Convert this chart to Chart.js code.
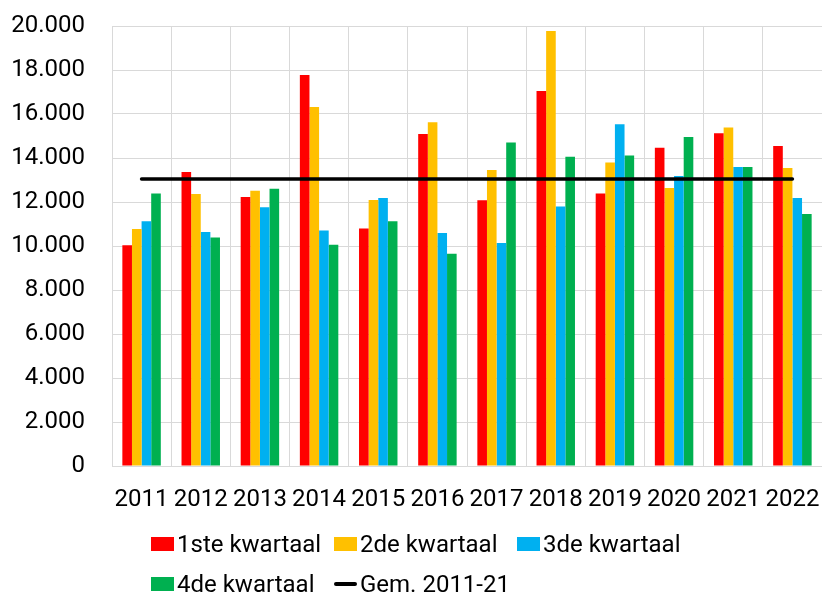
<!DOCTYPE html>
<html>
<head>
<meta charset="utf-8">
<script src="https://cdn.jsdelivr.net/npm/chart.js@4.4.1/dist/chart.umd.min.js"></script>
<style>
  html, body { margin: 0; padding: 0; background: #fff; }
  #wrap { position: relative; width: 822px; height: 592px; font-family: Roboto, sans-serif; }
  #chart { position: absolute; left: 0; top: 0; }
  .item { position: absolute; height: 28px; display: flex; align-items: center; font-size: 24px; line-height: 28px; color: #000; white-space: nowrap; }
  .box { width: 23px; height: 14px; margin-right: 3px; }
  .ln { width: 23px; height: 4px; border-radius: 2px; margin-right: 3px; }
</style>
</head>
<body>
<div id="wrap">
  <canvas id="chart" width="822" height="592"></canvas>
  <div id="legend"></div>
</div>
<script>
const years = ['2011', '2012', '2013', '2014', '2015', '2016', '2017', '2018', '2019', '2020', '2021', '2022'];
const q1 = [10030, 13360, 12230, 17770, 10790, 15090, 12080, 17050, 12390, 14470, 15120, 14550];
const q2 = [10770, 12360, 12510, 16320, 12090, 15620, 13450, 19770, 13800, 12640, 15390, 13550];
const q3 = [11120, 10640, 11760, 10710, 12180, 10590, 10140, 11800, 15530, 13180, 13590, 12180];
const q4 = [12390, 10390, 12600, 10060, 11120, 9650, 14700, 14060, 14110, 14950, 13590, 11450];
const gem = [13050, 13050, 13050, 13050, 13050, 13050, 13050, 13050, 13050, 13050, 13050, 13050];
const yTicks = [0, 2000, 4000, 6000, 8000, 10000, 12000, 14000, 16000, 18000, 20000];

const seriesNames = ['1ste kwartaal', '2de kwartaal', '3de kwartaal', '4de kwartaal', 'Gem. 2011-21'];
const seriesColors = ['#FF0000', '#FFC000', '#00B0F0', '#00B050', '#000000'];

const fmt = v => String(v).replace(/\B(?=(\d{3})+(?!\d))/g, '.');

const bar = (i, data) => ({
    type: 'bar',
    label: seriesNames[i],
    data: data,
    backgroundColor: seriesColors[i],
    borderWidth: 0,
    order: 1,
    categoryPercentage: 0.65,
    barPercentage: 1
});

new Chart(document.getElementById('chart'), {
    data: {
        labels: years,
        datasets: [
            {
                type: 'line',
                label: seriesNames[4],
                data: gem,
                borderColor: seriesColors[4],
                borderWidth: 3.5,
                borderCapStyle: 'round',
                pointRadius: 0,
                fill: false,
                order: 0
            },
            bar(0, q1), bar(1, q2), bar(2, q3), bar(3, q4)
        ]
    },
    options: {
        responsive: false,
        animation: false,
        layout: { padding: { top: 26, left: 0, right: 0, bottom: 0 } },
        plugins: { legend: { display: false }, tooltip: { enabled: false } },
        scales: {
            x: {
                grid: { color: '#d9d9d9', drawTicks: false, offset: true },
                border: { color: '#d9d9d9' },
                ticks: { color: '#000', font: { family: 'Roboto', size: 24 }, padding: 20, maxRotation: 0, autoSkip: false },
                afterFit: s => { s.height = 126; s.paddingLeft = 0; s.paddingRight = 0; }
            },
            y: {
                min: 0,
                max: 20000,
                afterBuildTicks: s => { s.ticks = yTicks.map(v => ({ value: v })); },
                grid: { color: '#d9d9d9', drawTicks: false },
                border: { color: '#d9d9d9' },
                ticks: { color: '#000', font: { family: 'Roboto', size: 24 }, padding: 27, callback: v => fmt(v) },
                afterFit: s => { s.width = 112; s.paddingTop = 0; s.paddingBottom = 0; }
            }
        }
    }
});

// legend in a grid of 3 columns like the original
const legend = document.getElementById('legend');
seriesNames.forEach((name, i) => {
    const col = i % 3, row = Math.floor(i / 3);
    const el = document.createElement('div');
    el.className = 'item';
    el.style.left = (151 + col * 183) + 'px';
    el.style.top = (530 + row * 40) + 'px';
    const sw = document.createElement('span');
    sw.className = i === 4 ? 'ln' : 'box';
    sw.style.background = seriesColors[i];
    el.appendChild(sw);
    el.appendChild(document.createTextNode(name));
    legend.appendChild(el);
});
</script>
</body>
</html>
